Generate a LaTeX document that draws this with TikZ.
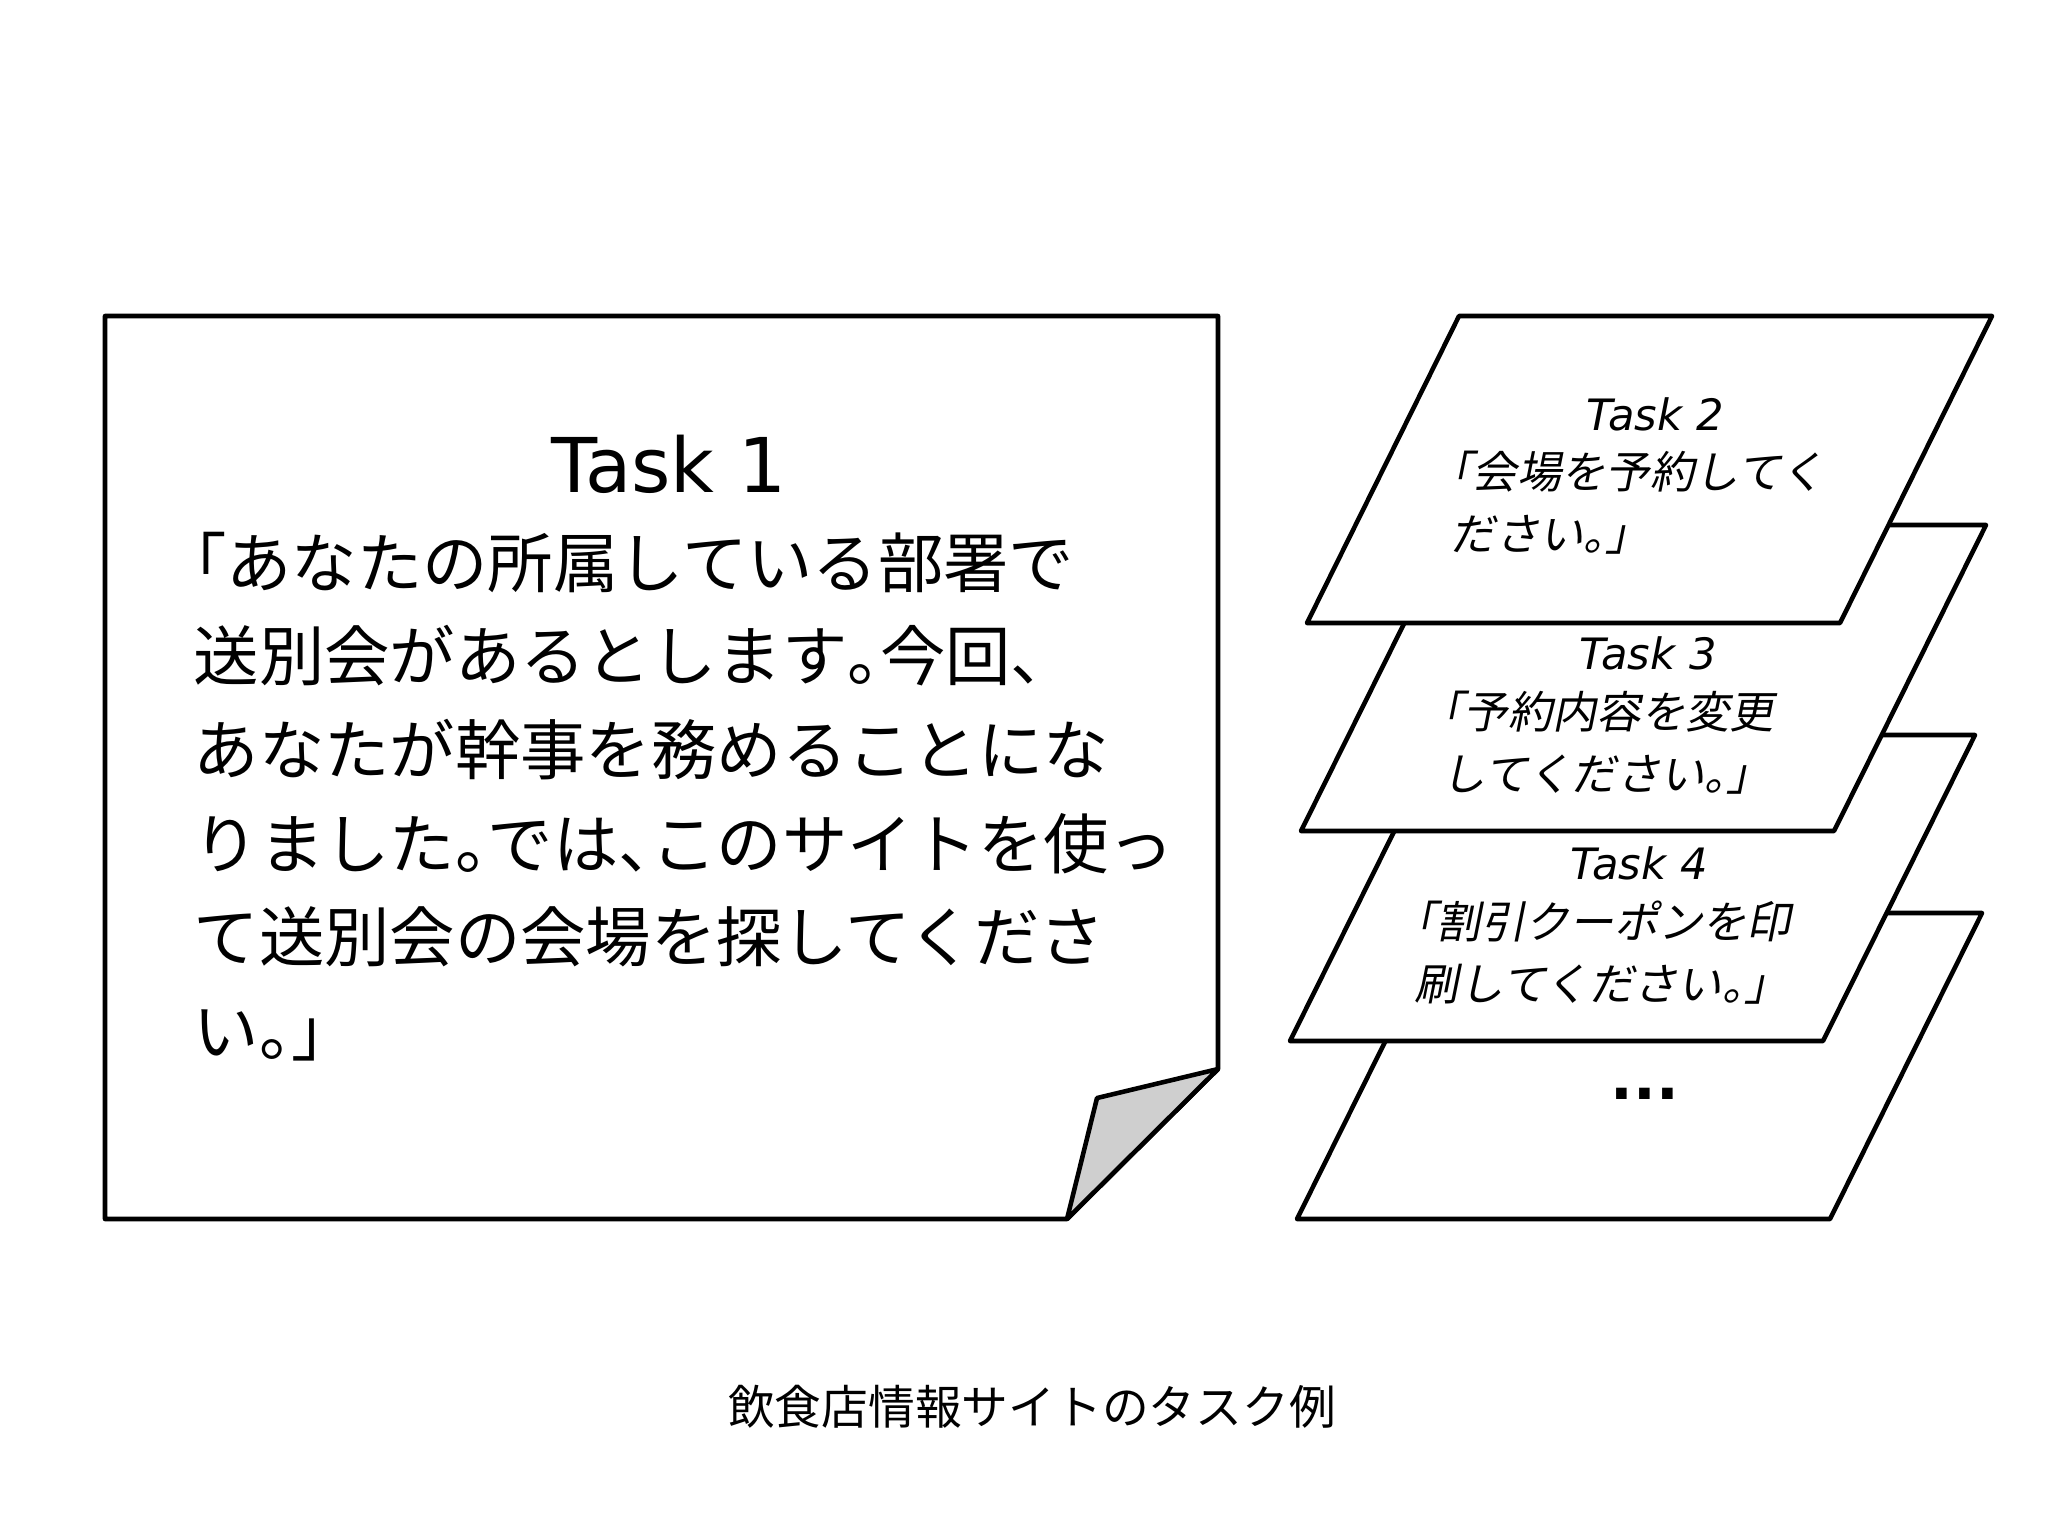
\documentclass[tikz,border=0pt]{standalone}
\usepackage{fontspec}
\setmainfont{DejaVu Sans}
\newfontfamily\jpfont{Noto Sans CJK JP}
\newfontfamily\jpslant[FakeSlant=0.2]{Noto Sans CJK JP}
\usepackage{tikz}
\usetikzlibrary{positioning}
\newcommand{\halfw}[1]{\makebox[0.5em][l]{#1}}
\newcommand{\halfo}[1]{\makebox[0.5em][r]{#1}}

\begin{document}
\begin{tikzpicture}[x=0.1mm, y=-0.1mm]

	\tikzstyle{note}=[draw=black, fill=white, line width=1.3pt, line join=round];
	\tikzstyle{card}=[draw=black, fill=white, line width=1.3pt, line join=round];
	\tikzstyle{cardlabel}=[font=\itshape\fontsize{12.3pt}{15pt}\selectfont, inner sep=0];
	\tikzstyle{cardtext}=[font=\jpslant\fontsize{12.6pt}{17.6pt}\selectfont, align=left, inner sep=0, anchor=north west];

	\useasboundingbox (0,0) rectangle (2048,1536);

	\draw [note] (105,316) -- (1218,316) -- (1218,1069) -- (1067,1219) -- (105,1219) -- cycle;
	\draw [note, fill=black!19] (1218,1069) -- (1097,1098) -- (1067,1219) -- cycle;

	\node (task1 label) [font=\fontsize{21.5pt}{26pt}\selectfont, inner sep=0, anchor=base] at (669,492) {Task 1};
	\node (task1 text) [font=\jpfont\fontsize{18.6pt}{26.65pt}\selectfont, align=left, inner sep=0, anchor=north west] at (193,531) {\halfo{「}あなたの所属している部署で\\送別会があるとします\halfw{。}今回\halfw{、}\\あなたが幹事を務めることにな\\りました\halfw{。}では\halfw{、}このサイトを使っ\\て送別会の会場を探してくださ\\い\halfw{。}」};

	\draw [card] (1297,1219) -- ++(533,0) -- ++(152,-306) -- ++(-533,0) -- cycle;
	\draw [card] (1290,1041) -- ++(533,0) -- ++(152,-306) -- ++(-533,0) -- cycle;
	\draw [card] (1301,831) -- ++(533,0) -- ++(152,-306) -- ++(-533,0) -- cycle;
	\draw [card] (1307,623) -- ++(533,0) -- ++(152,-307) -- ++(-533,0) -- cycle;

	\node (task2 label) [cardlabel] at (1655,414) {Task 2};
	\node (task2 text) [cardtext] at (1450,450) {\halfo{「}会場を予約してく\\ださい\halfw{。}」};

	\node (task3 label) [cardlabel] at (1648,653) {Task 3};
	\node (task3 text) [cardtext] at (1441,690) {\halfo{「}予約内容を変更\\してください\halfw{。}」};

	\node (task4 label) [cardlabel] at (1639,863) {Task 4};
	\node (task4 text) [cardtext] at (1414,900) {\halfo{「}割引クーポンを印\\刷してください\halfw{。}」};

	\node (more label) [font=\bfseries\fontsize{17pt}{20pt}\selectfont, inner sep=0] at (1645,1094) {...};

	\node (caption) [font=\jpfont\fontsize{13.3pt}{16pt}\selectfont, inner sep=0] at (1032,1407) {飲食店情報サイトのタスク例};

\end{tikzpicture}
\end{document}
